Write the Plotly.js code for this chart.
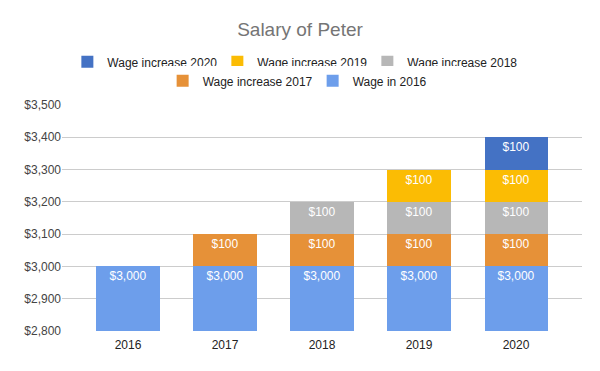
<!DOCTYPE html>
<html><head><meta charset="utf-8">
<script src="https://cdn.plot.ly/plotly-3.0.1.min.js"></script>
<style>html,body{margin:0;padding:0;background:#fff}</style>
</head><body><div id="chart" style="width:600px;height:371px"></div>
<script>
const years = ["2016","2017","2018","2019","2020"];
const seriesNames = ["Wage in 2016","Wage increase 2017","Wage increase 2018","Wage increase 2019","Wage increase 2020"];
const wage2016 = [3000,3000,3000,3000,3000];
const inc2017 = [null,100,100,100,100];
const inc2018 = [null,null,100,100,100];
const inc2019 = [null,null,null,100,100];
const inc2020 = [null,null,null,null,100];
const colors = ["#6d9eeb","#e69138","#b7b7b7","#fbbc04","#4472c4"];
const allSeries = [wage2016,inc2017,inc2018,inc2019,inc2020];
const legendRow = ["legend2","legend2","legend","legend","legend"];

const FONT = 'Arial, "Liberation Sans", sans-serif';

const traces = allSeries.map((vals,i)=>({
  type:'bar', x:years, y:vals, name:seriesNames[i],
  legend:legendRow[i],
  marker:{color:colors[i], line:{width:0}},
  width:0.65,
  texttemplate:'$%{y:,}', textposition:'inside', insidetextanchor:'end',
  textfont:{family:FONT, size:12, color:'#ffffff'},
  textangle:0, constraintext:'none',
  hoverinfo:'skip'
}));

const legendCommon = {orientation:'h', xanchor:'center', yanchor:'top',
  traceorder:'reversed', entrywidth:105, entrywidthmode:'pixels',
  font:{family:FONT, size:12, color:'#222'}};

const layout = {
  width:600, height:371,
  margin:{l:62, r:18, t:105, b:40},
  barmode:'stack',
  paper_bgcolor:'#fff', plot_bgcolor:'#fff',
  title:{text:'Salary of Peter', x:0.5, xanchor:'center', y:0.92, yanchor:'middle',
    font:{family:FONT, size:19, color:'#757575'}},
  font:{family:FONT, size:12, color:'#444'},
  showlegend:true,
  legend:Object.assign({}, legendCommon, {x:0.443, y:1.255}),
  legend2:Object.assign({}, legendCommon, {x:0.482, y:1.171}),
  xaxis:{type:'category', range:[-0.68,4.68], showgrid:false, zeroline:false,
    showline:false, ticks:'', ticklabelstandoff:5,
    tickfont:{family:FONT, size:12, color:'#222'}},
  yaxis:{range:[2800,3500], dtick:100, tickprefix:'$', tickformat:',', separatethousands:true,
    gridcolor:'#cccccc', zeroline:false, showline:false, ticks:'',
    tickfont:{family:FONT, size:12, color:'#444'}}
};
Plotly.newPlot('chart', traces, layout, {displayModeBar:false, staticPlot:true});
</script></body></html>
